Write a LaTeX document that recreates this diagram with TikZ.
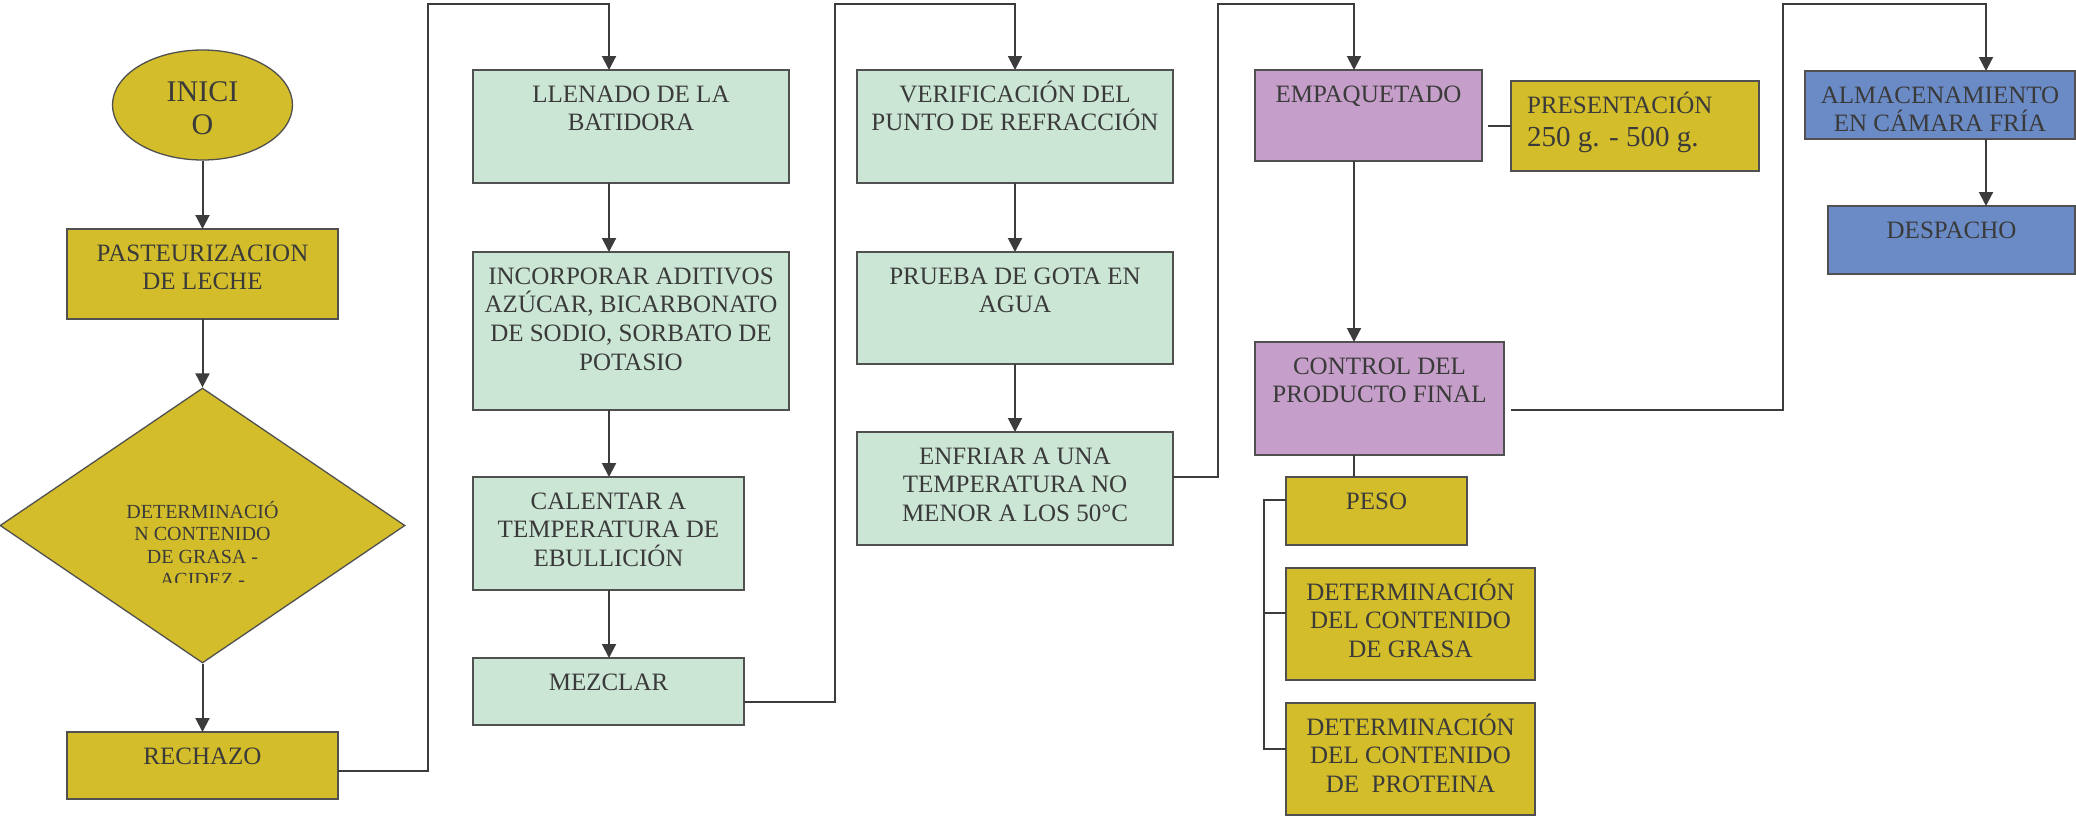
\documentclass[tikz,border=0pt]{standalone}
\usepackage{fontspec}
\setmainfont{Liberation Serif}
\usetikzlibrary{arrows.meta,shapes.geometric}
\definecolor{yelF}{RGB}{211,189,42}
\definecolor{grnF}{RGB}{204,230,214}
\definecolor{purF}{RGB}{197,159,201}
\definecolor{bluF}{RGB}{107,139,198}
\definecolor{edge}{RGB}{80,80,80}
\definecolor{conn}{RGB}{60,60,60}
\definecolor{txt}{RGB}{58,58,58}
\newcommand\fsmain{\fontsize{25}{28.7}\selectfont}
\newcommand\fsdia{\fontsize{20}{22.6}\selectfont}
\newcommand\fsini{\fontsize{30}{33}\selectfont}
\newcommand\mkbox[7]{%
  \node[#6, inner sep=0pt, outer sep=0pt] (#1) at ({(#2+#4)/2},{(#3+#5)/2})
  {\parbox[c][\dimexpr#5pt-#3pt\relax][t]{\dimexpr#4pt-#2pt\relax}{\centering\rule{0pt}{32pt}#7\par}};}
\tikzset{
  boxbase/.style={draw=edge, line width=1.3pt, text=txt, font=\fsmain},
  ybox/.style={boxbase, fill=yelF},
  gbox/.style={boxbase, fill=grnF},
  pbox/.style={boxbase, fill=purF},
  bbox/.style={boxbase, fill=bluF},
  cline/.style={draw=conn, line width=2pt},
  arr/.style={cline, -{Triangle[length=14pt,width=14pt]}},
}
\begin{document}
\begin{tikzpicture}[x=1pt,y=-1pt]
\useasboundingbox (0,0) rectangle (2076,817);
% start and decision
\node[ellipse, draw=edge, line width=1.3pt, fill=yelF, text=txt, font=\fsini, align=center,
      minimum width=180pt, minimum height=110pt, inner sep=0pt] (inicio) at (202.5,105) {\rule{0pt}{26pt}INICI\\O};
\mkbox{pasteur}{67}{229}{338}{319}{ybox}{PASTEURIZACION\\DE LECHE}
\node[diamond, draw=edge, line width=1.3pt, fill=yelF, minimum width=405pt, minimum height=275pt, inner sep=0pt] (decision) at (202.5,525.5) {};
\begin{scope}
\clip (0,380) rectangle (405,582.5);
\node[anchor=base, inner sep=0pt, font=\fsdia, text=txt] (dtext) at (202.5,518.3)
  {\parbox[t]{300pt}{\centering DETERMINACIÓ\\N CONTENIDO\\DE GRASA -\\ACIDEZ -\par}};
\end{scope}
\mkbox{rechazo}{67}{732}{338}{799}{ybox}{RECHAZO}
% green column 1
\mkbox{llenado}{473}{70}{789}{183}{gbox}{LLENADO DE LA\\BATIDORA}
\mkbox{incorporar}{473}{252}{789}{410}{gbox}{INCORPORAR ADITIVOS\\AZÚCAR, BICARBONATO\\DE SODIO, SORBATO DE\\POTASIO}
\mkbox{calentar}{473}{477}{744}{590}{gbox}{CALENTAR A\\TEMPERATURA DE\\EBULLICIÓN}
\mkbox{mezclar}{473}{658}{744}{725}{gbox}{MEZCLAR}
% green column 2
\mkbox{verif}{857}{70}{1173}{183}{gbox}{VERIFICACIÓN DEL\\PUNTO DE REFRACCIÓN}
\mkbox{prueba}{857}{252}{1173}{364}{gbox}{PRUEBA DE GOTA EN\\AGUA}
\mkbox{enfriar}{857}{432}{1173}{545}{gbox}{ENFRIAR A UNA\\TEMPERATURA NO\\MENOR A LOS 50°C}
% purple column
\mkbox{empaq}{1255}{70}{1482}{161}{pbox}{EMPAQUETADO}
\node[ybox, inner sep=0pt, outer sep=0pt] (pres) at (1635,126)
  {\parbox[c][90pt][t]{248pt}{\leftskip=16pt\rule{0pt}{32.3pt}PRESENTACIÓN\\\fontsize{29}{33.4}\selectfont 250 g. - 500 g.\par}};
\mkbox{control}{1255}{342}{1504}{455}{pbox}{CONTROL DEL\\PRODUCTO FINAL}
\mkbox{peso}{1286}{477}{1467}{545}{ybox}{PESO}
\mkbox{grasa}{1286}{568}{1535}{680}{ybox}{DETERMINACIÓN\\DEL CONTENIDO\\DE GRASA}
\mkbox{proteina}{1286}{703}{1535}{815}{ybox}{DETERMINACIÓN\\DEL CONTENIDO\\DE~~PROTEINA}
% blue column
\mkbox{almac}{1805}{71}{2075}{139}{bbox}{ALMACENAMIENTO\\EN CÁMARA FRÍA}
\mkbox{despacho}{1828}{206}{2075}{274}{bbox}{DESPACHO}
% helper coordinates
\coordinate (c1) at (428,4);
\coordinate (c2) at (835,4);
\coordinate (c3) at (1218,4);
\coordinate (c4) at (1783,4);
\coordinate (axA) at (609,0);
\coordinate (axC) at (1354,0);
\coordinate (axD) at (1986,0);
\coordinate (brk) at (1264,0);
\coordinate (presfree) at ([xshift=-23pt]pres.west);
\coordinate (ctrlout) at ([xshift=7pt,yshift=-11.5pt]control.east);
\coordinate (tp) at ([yshift=11pt]peso.west);
\coordinate (tg) at ([yshift=11pt]grasa.west);
\coordinate (tq) at ([yshift=10pt]proteina.west);
% connectors
\draw[arr] (inicio.south) -- (pasteur.north);
\draw[arr] (pasteur.south) -- (decision.north);
\draw[arr] (decision.south) -- (rechazo.north);
\draw[arr] ([yshift=-5.5pt]rechazo.east) -| (c1) -| (llenado.north -| axA);
\draw[arr] (llenado.south -| axA) -- (incorporar.north -| axA);
\draw[arr] (incorporar.south -| axA) -- (calentar.north -| axA);
\draw[arr] (calentar.south -| axA) -- (mezclar.north -| axA);
\draw[arr] ([yshift=-10.5pt]mezclar.east) -| (c2) -| (verif.north);
\draw[arr] (verif.south) -- (prueba.north);
\draw[arr] (prueba.south) -- (enfriar.north);
\draw[arr] ([yshift=11.5pt]enfriar.east) -| (c3) -| (empaq.north -| axC);
\draw[arr] (empaq.south -| axC) -- (control.north -| axC);
\draw[cline] (pres.west) -- (presfree);
\draw[cline] (control.south -| axC) -- (peso.north -| axC);
\draw[cline] (tp) -- (tp -| brk) -- (tq -| brk) -- (tq);
\draw[cline] (tg -| brk) -- (tg);
\draw[arr] (ctrlout) -| (c4) -| (almac.north -| axD);
\draw[arr] (almac.south -| axD) -- (despacho.north -| axD);
\end{tikzpicture}
\end{document}
